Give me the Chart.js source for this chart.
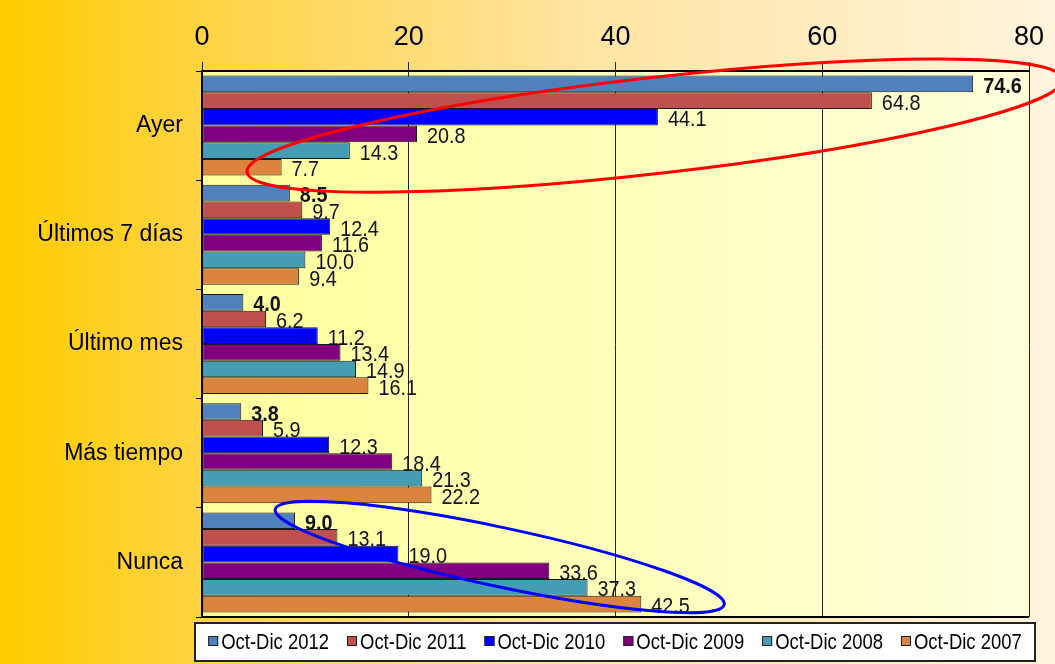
<!DOCTYPE html>
<html>
<head>
<meta charset="utf-8">
<script src="https://cdn.jsdelivr.net/npm/chart.js@4.4.1/dist/chart.umd.min.js"></script>
<style>
  html, body { margin: 0; padding: 0; background: #fff; }
  canvas { display: block; }
</style>
</head>
<body>
<canvas id="chart" width="1055" height="664"></canvas>
<script>
const categories = ["Ayer", "Últimos 7 días", "Último mes", "Más tiempo", "Nunca"];
const seriesNames = ["Oct-Dic 2012", "Oct-Dic 2011", "Oct-Dic 2010", "Oct-Dic 2009", "Oct-Dic 2008", "Oct-Dic 2007"];
const oct2012 = [74.6, 8.5, 4.0, 3.8, 9.0];
const oct2011 = [64.8, 9.7, 6.2, 5.9, 13.1];
const oct2010 = [44.1, 12.4, 11.2, 12.3, 19.0];
const oct2009 = [20.8, 11.6, 13.4, 18.4, 33.6];
const oct2008 = [14.3, 10.0, 14.9, 21.3, 37.3];
const oct2007 = [7.7, 9.4, 16.1, 22.2, 42.5];
const xTicks = [0, 20, 40, 60, 80];

const seriesValues = [oct2012, oct2011, oct2010, oct2009, oct2008, oct2007];
const seriesColors = ["#4f81bd", "#c0504d", "#0000ff", "#800080", "#459db4", "#db843d"];

const SANS = "'Liberation Sans', Arial, sans-serif";

// no Arial Narrow here: squeeze Liberation Sans instead
function narrowText(ctx, text, x, y, squeeze) {
    ctx.save();
    ctx.translate(x, y);
    ctx.scale(squeeze, 1);
    ctx.fillText(text, 0, 0);
    ctx.restore();
}

// page + plot background
const backgroundPlugin = {
    id: "bg",
    beforeDraw(chart) {
        const ctx = chart.ctx;
        const w = chart.width, h = chart.height;
        let g = ctx.createLinearGradient(0, 0, w, 0);
        g.addColorStop(0, "#ffcc00");
        g.addColorStop(0.2, "#ffd445");
        g.addColorStop(0.55, "#ffe4a2");
        g.addColorStop(1, "#fff4dc");
        ctx.save();
        ctx.fillStyle = g;
        ctx.fillRect(0, 0, w, h);
        const a = chart.chartArea;
        g = ctx.createLinearGradient(a.left, 0, a.right, 0);
        g.addColorStop(0, "#ffff9c");
        g.addColorStop(1, "#ffffdc");
        ctx.fillStyle = g;
        ctx.fillRect(a.left, a.top, a.right - a.left, a.bottom - a.top);
        ctx.restore();
    }
};

// value labels next to each bar
const labelPlugin = {
    id: "barLabels",
    afterDatasetsDraw(chart) {
        const ctx = chart.ctx;
        ctx.save();
        ctx.fillStyle = "#111";
        ctx.textAlign = "left";
        ctx.textBaseline = "middle";
        chart.data.datasets.forEach((ds, i) => {
            ctx.font = (i === 0 ? "bold " : "") + "22px " + SANS;
            chart.getDatasetMeta(i).data.forEach((bar, j) => {
                narrowText(ctx, ds.data[j].toFixed(1), bar.x + 10, bar.y + 3, 0.9);
            });
        });
        ctx.restore();
    }
};

// plot frame, highlight ellipses and the boxed legend
const extrasPlugin = {
    id: "extras",
    afterDraw(chart) {
        const ctx = chart.ctx;
        const a = chart.chartArea;
        const xs = chart.scales.x, ys = chart.scales.y;
        ctx.save();
        ctx.strokeStyle = "#000";
        ctx.lineWidth = 2;
        ctx.beginPath();
        ctx.moveTo(a.left, a.bottom);
        ctx.lineTo(a.right, a.bottom);
        ctx.stroke();

        const catH = ys.getPixelForValue(1) - ys.getPixelForValue(0);
        const ellipses = [
            { cx: 43.8, cy: 0, rx: 39.7, ry: 0.44, rot: -6.5, color: "#ff0000" },
            { cx: 28.8, cy: 3.95, rx: 22.2, ry: 0.27, rot: 12, color: "#0000ff" }
        ];
        ellipses.forEach(e => {
            const px = xs.getPixelForValue(e.cx);
            const py = ys.getPixelForValue(Math.floor(e.cy)) + (e.cy - Math.floor(e.cy)) * catH;
            const rx = xs.getPixelForValue(e.cx + e.rx) - px;
            ctx.beginPath();
            ctx.ellipse(px, py, rx, e.ry * catH, e.rot * Math.PI / 180, 0, Math.PI * 2);
            ctx.strokeStyle = e.color;
            ctx.lineWidth = 3;
            ctx.stroke();
        });

        // legend
        const box = { left: 195, right: 1035, top: 623, bottom: 661 };
        ctx.fillStyle = "#fff";
        ctx.fillRect(box.left, box.top, box.right - box.left, box.bottom - box.top);
        ctx.strokeStyle = "#222";
        ctx.lineWidth = 2;
        ctx.strokeRect(box.left, box.top, box.right - box.left, box.bottom - box.top);

        ctx.font = "22px " + SANS;
        ctx.textBaseline = "middle";
        ctx.textAlign = "left";
        const sq = 10, gap = 3, spacing = 18, squeeze = 0.84;
        const widths = chart.data.datasets.map(ds => sq + gap + ctx.measureText(ds.label).width * squeeze);
        const total = widths.reduce((s, v) => s + v, 0) + spacing * (widths.length - 1);
        let x = (box.left + box.right) / 2 - total / 2;
        const cy = (box.top + box.bottom) / 2;
        chart.data.datasets.forEach((ds, i) => {
            ctx.fillStyle = ds.backgroundColor;
            ctx.fillRect(x, cy - sq / 2 - 1, sq, sq);
            ctx.strokeStyle = "#222";
            ctx.lineWidth = 1;
            ctx.strokeRect(x + 0.5, cy - sq / 2 - 0.5, sq - 1, sq - 1);
            ctx.fillStyle = "#000";
            narrowText(ctx, ds.label, x + sq + gap, cy + 1, squeeze);
            x += widths[i] + spacing;
        });
        ctx.restore();
    }
};

new Chart(document.getElementById("chart"), {
    type: "bar",
    data: {
        labels: categories,
        datasets: seriesNames.map((name, i) => ({
            label: name,
            data: seriesValues[i],
            backgroundColor: seriesColors[i],
            borderColor: "#1a1a1a",
            borderWidth: 1,
            borderSkipped: false,
            categoryPercentage: 0.916,
            barPercentage: 1.0
        }))
    },
    options: {
        indexAxis: "y",
        responsive: false,
        animation: false,
        layout: { padding: { left: 0, right: 26, top: 0, bottom: 47 } },
        plugins: {
            legend: { display: false },
            tooltip: { enabled: false }
        },
        scales: {
            x: {
                position: "top",
                min: xTicks[0],
                max: xTicks[xTicks.length - 1],
                afterBuildTicks(scale) {
                    scale.ticks = xTicks.map(v => ({ value: v }));
                },
                afterFit(scale) { scale.height = 71; },
                grid: { color: "#222", lineWidth: 1, tickLength: 9 },
                border: { color: "#000", width: 2 },
                ticks: {
                    color: "#000",
                    padding: 8,
                    font: { family: SANS, size: 27 }
                }
            },
            y: {
                afterFit(scale) { scale.width = 202; },
                grid: { offset: true, drawOnChartArea: false, color: "#000", tickLength: 6 },
                border: { color: "#000", width: 2 },
                ticks: {
                    color: "#000",
                    padding: 13,
                    font: { family: SANS, size: 23 }
                }
            }
        }
    },
    plugins: [backgroundPlugin, labelPlugin, extrasPlugin]
});
</script>
</body>
</html>
